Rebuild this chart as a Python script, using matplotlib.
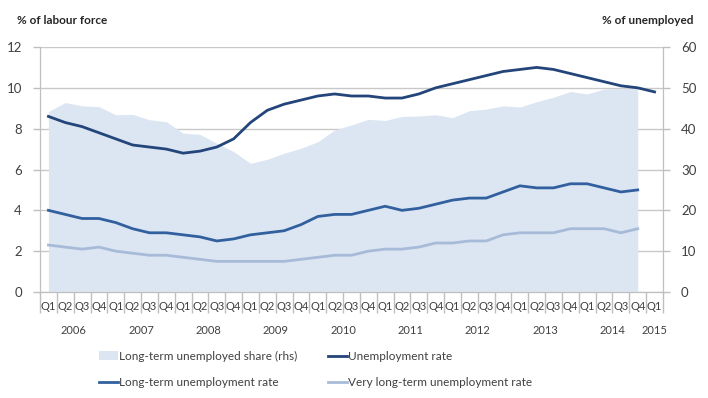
import numpy as np
import matplotlib
matplotlib.use("Agg")
import matplotlib.pyplot as plt
import matplotlib.transforms as mtransforms
from matplotlib.patches import Patch
from matplotlib.lines import Line2D

plt.rcParams["font.family"] = ["Lato", "DejaVu Sans"]

# data, 2006 Q1 .. 2015 Q1
years = ["2006", "2007", "2008", "2009", "2010", "2011", "2012", "2013", "2014", "2015"]
quarters = ["Q1", "Q2", "Q3", "Q4"]

unemployment_rate = [8.6, 8.3, 8.1, 7.8, 7.5, 7.2, 7.1, 7.0,
                     6.8, 6.9, 7.1, 7.5, 8.3, 8.9, 9.2, 9.4,
                     9.6, 9.7, 9.6, 9.6, 9.5, 9.5, 9.7, 10.0,
                     10.2, 10.4, 10.6, 10.8, 10.9, 11.0, 10.9, 10.7,
                     10.5, 10.3, 10.1, 10.0, 9.8]
lt_share = [44.2, 46.4, 45.6, 45.4, 43.4, 43.5, 42.2, 41.7,
            38.9, 38.6, 36.4, 34.4, 31.5, 32.5, 34.0, 35.2,
            36.8, 39.7, 40.9, 42.3, 42.0, 43.0, 43.1, 43.4,
            42.7, 44.4, 44.8, 45.6, 45.3, 46.6, 47.7, 49.1,
            48.5, 49.7, 49.9, 49.9]
lt_rate = [4.0, 3.8, 3.6, 3.6, 3.4, 3.1, 2.9, 2.9,
           2.8, 2.7, 2.5, 2.6, 2.8, 2.9, 3.0, 3.3,
           3.7, 3.8, 3.8, 4.0, 4.2, 4.0, 4.1, 4.3,
           4.5, 4.6, 4.6, 4.9, 5.2, 5.1, 5.1, 5.3,
           5.3, 5.1, 4.9, 5.0]
vlt_rate = [2.3, 2.2, 2.1, 2.2, 2.0, 1.9, 1.8, 1.8,
            1.7, 1.6, 1.5, 1.5, 1.5, 1.5, 1.5, 1.6,
            1.7, 1.8, 1.8, 2.0, 2.1, 2.1, 2.2, 2.4,
            2.4, 2.5, 2.5, 2.8, 2.9, 2.9, 2.9, 3.1,
            3.1, 3.1, 2.9, 3.1]

c_area = "#dce6f2"
c_unemp = "#24457a"
c_lt = "#32609e"
c_vlt = "#a7bbd9"
c_axis = "#bfbfbf"
c_text = "#404040"

n = len(unemployment_rate)
x = np.arange(n)

fig = plt.figure(figsize=(7.08, 3.98), dpi=100)
ax = fig.add_axes([40 / 708, 106 / 398, 623 / 708, 245 / 398])
ax2 = ax.twinx()
# lines on top of the area
ax.set_zorder(ax2.get_zorder() + 1)
ax.patch.set_visible(False)

# rhs: gridlines + area
ax2.set_ylim(0, 60)
ax2.set_yticks(np.arange(0, 61, 10))
ax2.yaxis.grid(True, color="#c8c8c8", linewidth=1)
ax2.set_axisbelow(True)
ax2.fill_between(x[:len(lt_share)], lt_share, color=c_area, linewidth=0)

# lhs lines
ax.plot(x, unemployment_rate, color=c_unemp, lw=2)
ax.plot(x[:len(lt_rate)], lt_rate, color=c_lt, lw=2)
ax.plot(x[:len(vlt_rate)], vlt_rate, color=c_vlt, lw=2)
ax.set_ylim(0, 12)
ax.set_yticks(np.arange(0, 13, 2))
ax.set_xlim(-0.5, n - 0.5)

for a in (ax, ax2):
    a.spines["top"].set_visible(False)
    for s in ("left", "right", "bottom"):
        a.spines[s].set_color(c_axis)
    a.tick_params(axis="y", colors=c_axis, labelcolor=c_text, labelsize=9.5, length=5, width=1)
ax.tick_params(axis="y", pad=8)
ax2.tick_params(axis="y", pad=8)

# x axis: separators as ticks, labels as text
ax.set_xticks(np.arange(-0.5, n, 4))
ax.set_xticks(np.arange(-0.5, n, 1), minor=True)
ax.set_xticklabels([])
ax.tick_params(axis="x", which="major", length=32, width=1, color=c_axis)
ax.tick_params(axis="x", which="minor", length=15, width=1, color=c_axis)
ax2.set_xticks([])

trans = mtransforms.blended_transform_factory(ax.transData, ax.transAxes)
for i in range(n):
    ax.text(x[i], -0.035, quarters[i % 4], transform=trans, ha="center", va="top",
            fontsize=8, color=c_text)
for k, yr in enumerate(years):
    span = x[4 * k:4 * k + 4]
    ax.text(span.mean(), -0.135, yr, transform=trans, ha="center", va="top",
            fontsize=8, color=c_text)

fig.text(17 / 708, 1 - 20 / 398, "% of labour force", fontsize=8.5, fontweight="bold",
         color="#262626", va="center", ha="left")
fig.text(693 / 708, 1 - 20 / 398, "% of unemployed", fontsize=8.5, fontweight="bold",
         color="#262626", va="center", ha="right")

handles = [
    Patch(facecolor=c_area, edgecolor="none"),
    Line2D([], [], color=c_lt, lw=2),
    Line2D([], [], color=c_unemp, lw=2),
    Line2D([], [], color=c_vlt, lw=2),
]
labels = ["Long-term unemployed share (rhs)", "Long-term unemployment rate",
          "Unemployment rate", "Very long-term unemployment rate"]
fig.legend(handles, labels, ncol=2, frameon=False, fontsize=8.5,
           loc="upper left", bbox_to_anchor=(88 / 708, 1 - 340 / 398),
           handlelength=1.6, handletextpad=0.1, columnspacing=2.6,
           labelspacing=1.3, labelcolor=c_text)

fig.savefig("out.png", dpi=100)
